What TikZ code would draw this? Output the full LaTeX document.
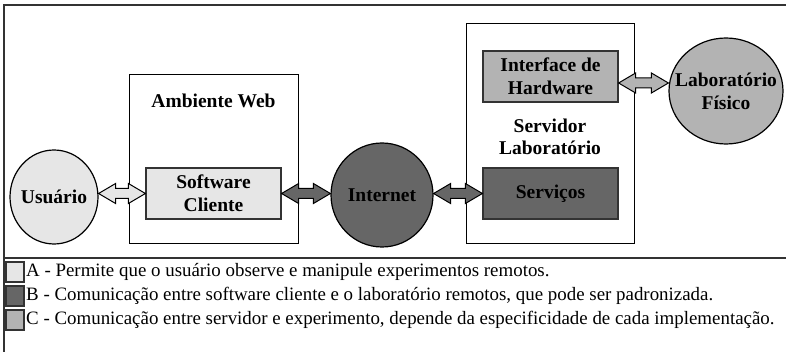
\documentclass[tikz,border=0pt]{standalone}
\usepackage{fontspec}
\setmainfont{Liberation Serif}
\usetikzlibrary{calc,shapes.geometric}
\definecolor{lgray}{HTML}{E6E6E6}
\definecolor{dgray}{HTML}{666666}
\definecolor{mgray}{HTML}{B3B3B3}
\definecolor{framec}{HTML}{333333}
\newcommand\blkarrow[3]{%
  \draw[arrowline, fill=#3] let \p1=#1, \p2=#2 in
  (\x1,\y1) -- (\x1+17pt,\y1+10pt) -- (\x1+17pt,\y1+5pt) -- (\x2-17pt,\y1+5pt)
  -- (\x2-17pt,\y1+10pt) -- (\x2,\y1) -- (\x2-17pt,\y1-10pt) -- (\x2-17pt,\y1-5pt)
  -- (\x1+17pt,\y1-5pt) -- (\x1+17pt,\y1-10pt) -- cycle;}
\begin{document}
\begin{tikzpicture}[x=1pt,y=-1pt,
  lbl/.style={font=\fontsize{19.5}{22}\selectfont\bfseries, align=center, inner sep=0pt},
  container/.style={draw=black, line width=1pt, fill=white, inner sep=0pt},
  blockbox/.style={draw=black!80, line width=1.2pt, inner sep=0pt, minimum width=135pt, minimum height=51pt,
     font=\fontsize{19.5}{23}\selectfont\bfseries, align=center},
  ball/.style={ellipse, draw=black, line width=1.2pt, inner sep=0pt},
  balltext/.style={font=\fontsize{19.5}{23}\selectfont\bfseries, align=center, inner sep=0pt},
  arrowline/.style={draw=black, line width=1pt, line join=miter},
  legsq/.style={draw=black!80, line width=1.5pt, minimum width=18pt, minimum height=20pt, inner sep=0pt},
  legtxt/.style={anchor=west, inner sep=0pt, font=\fontsize{18.9}{22}\selectfont}]
\useasboundingbox (0,0) rectangle (786,352);
\begin{scope}
  \clip (0,0) rectangle (786,352);
  \draw[framec, line width=2pt] (4,5) rectangle (800,370);
  \draw[framec, line width=2pt] (4,258) -- (800,258);
\end{scope}
% containers
\node[container, minimum width=169pt, minimum height=169pt] (web) at (213.5,159.5) {};
\node[lbl] (webt) at (213.5,101) {Ambiente Web};
\node[container, minimum width=168pt, minimum height=220pt] (lab srv) at (550,134) {};
\node[lbl] (srvt) at (550,137) {Servidor\\Laboratório};
% inner boxes
\node[blockbox, fill=lgray] (sw) at (213.5,193.5) {Software\\Cliente};
\node[blockbox, fill=mgray] (hw) at (550.5,76.5) {Interface de\\Hardware};
\node[blockbox, fill=dgray] (srv) at (550.5,193.5) {Serviços};
% circles
\node[ball, fill=lgray, minimum width=88pt, minimum height=94pt] (usr) at (54,197) {};
\node[balltext] (usrt) at (usr.center) {Usuário};
\node[ball, fill=dgray, minimum width=102pt, minimum height=104pt] (net) at (382,195) {};
\node[balltext] (nett) at (net.center) {Internet};
\node[ball, fill=mgray, minimum width=114pt, minimum height=106pt] (lab) at (726,91) {};
\node[balltext] (labt) at (lab.center) {Laboratório\\Físico};
% arrows
\blkarrow{(usr.east |- sw.west)}{(sw.west)}{lgray}
\blkarrow{(sw.east)}{(net.west |- sw.east)}{dgray}
\blkarrow{(net.east |- srv.west)}{(srv.west)}{dgray}
\coordinate (hwout) at ($(hw.east)+(0,6.5)$);
\blkarrow{(hwout)}{(lab.west)}{mgray}
% legend
\node[legsq, fill=lgray] (la) at (15,272) {};
\node[legsq, fill=dgray] (lb) at (15,296) {};
\node[legsq, fill=mgray] (lc) at (15,320) {};
\node[legtxt] (ta) at (26,272) {A - Permite que o usuário observe e manipule experimentos remotos.};
\node[legtxt] (tb) at (26,296) {B - Comunicação entre software cliente e o laboratório remotos, que pode ser padronizada.};
\node[legtxt] (tc) at (26,320) {C - Comunicação entre servidor e experimento, depende da especificidade de cada implementação.};
\end{tikzpicture}
\end{document}
